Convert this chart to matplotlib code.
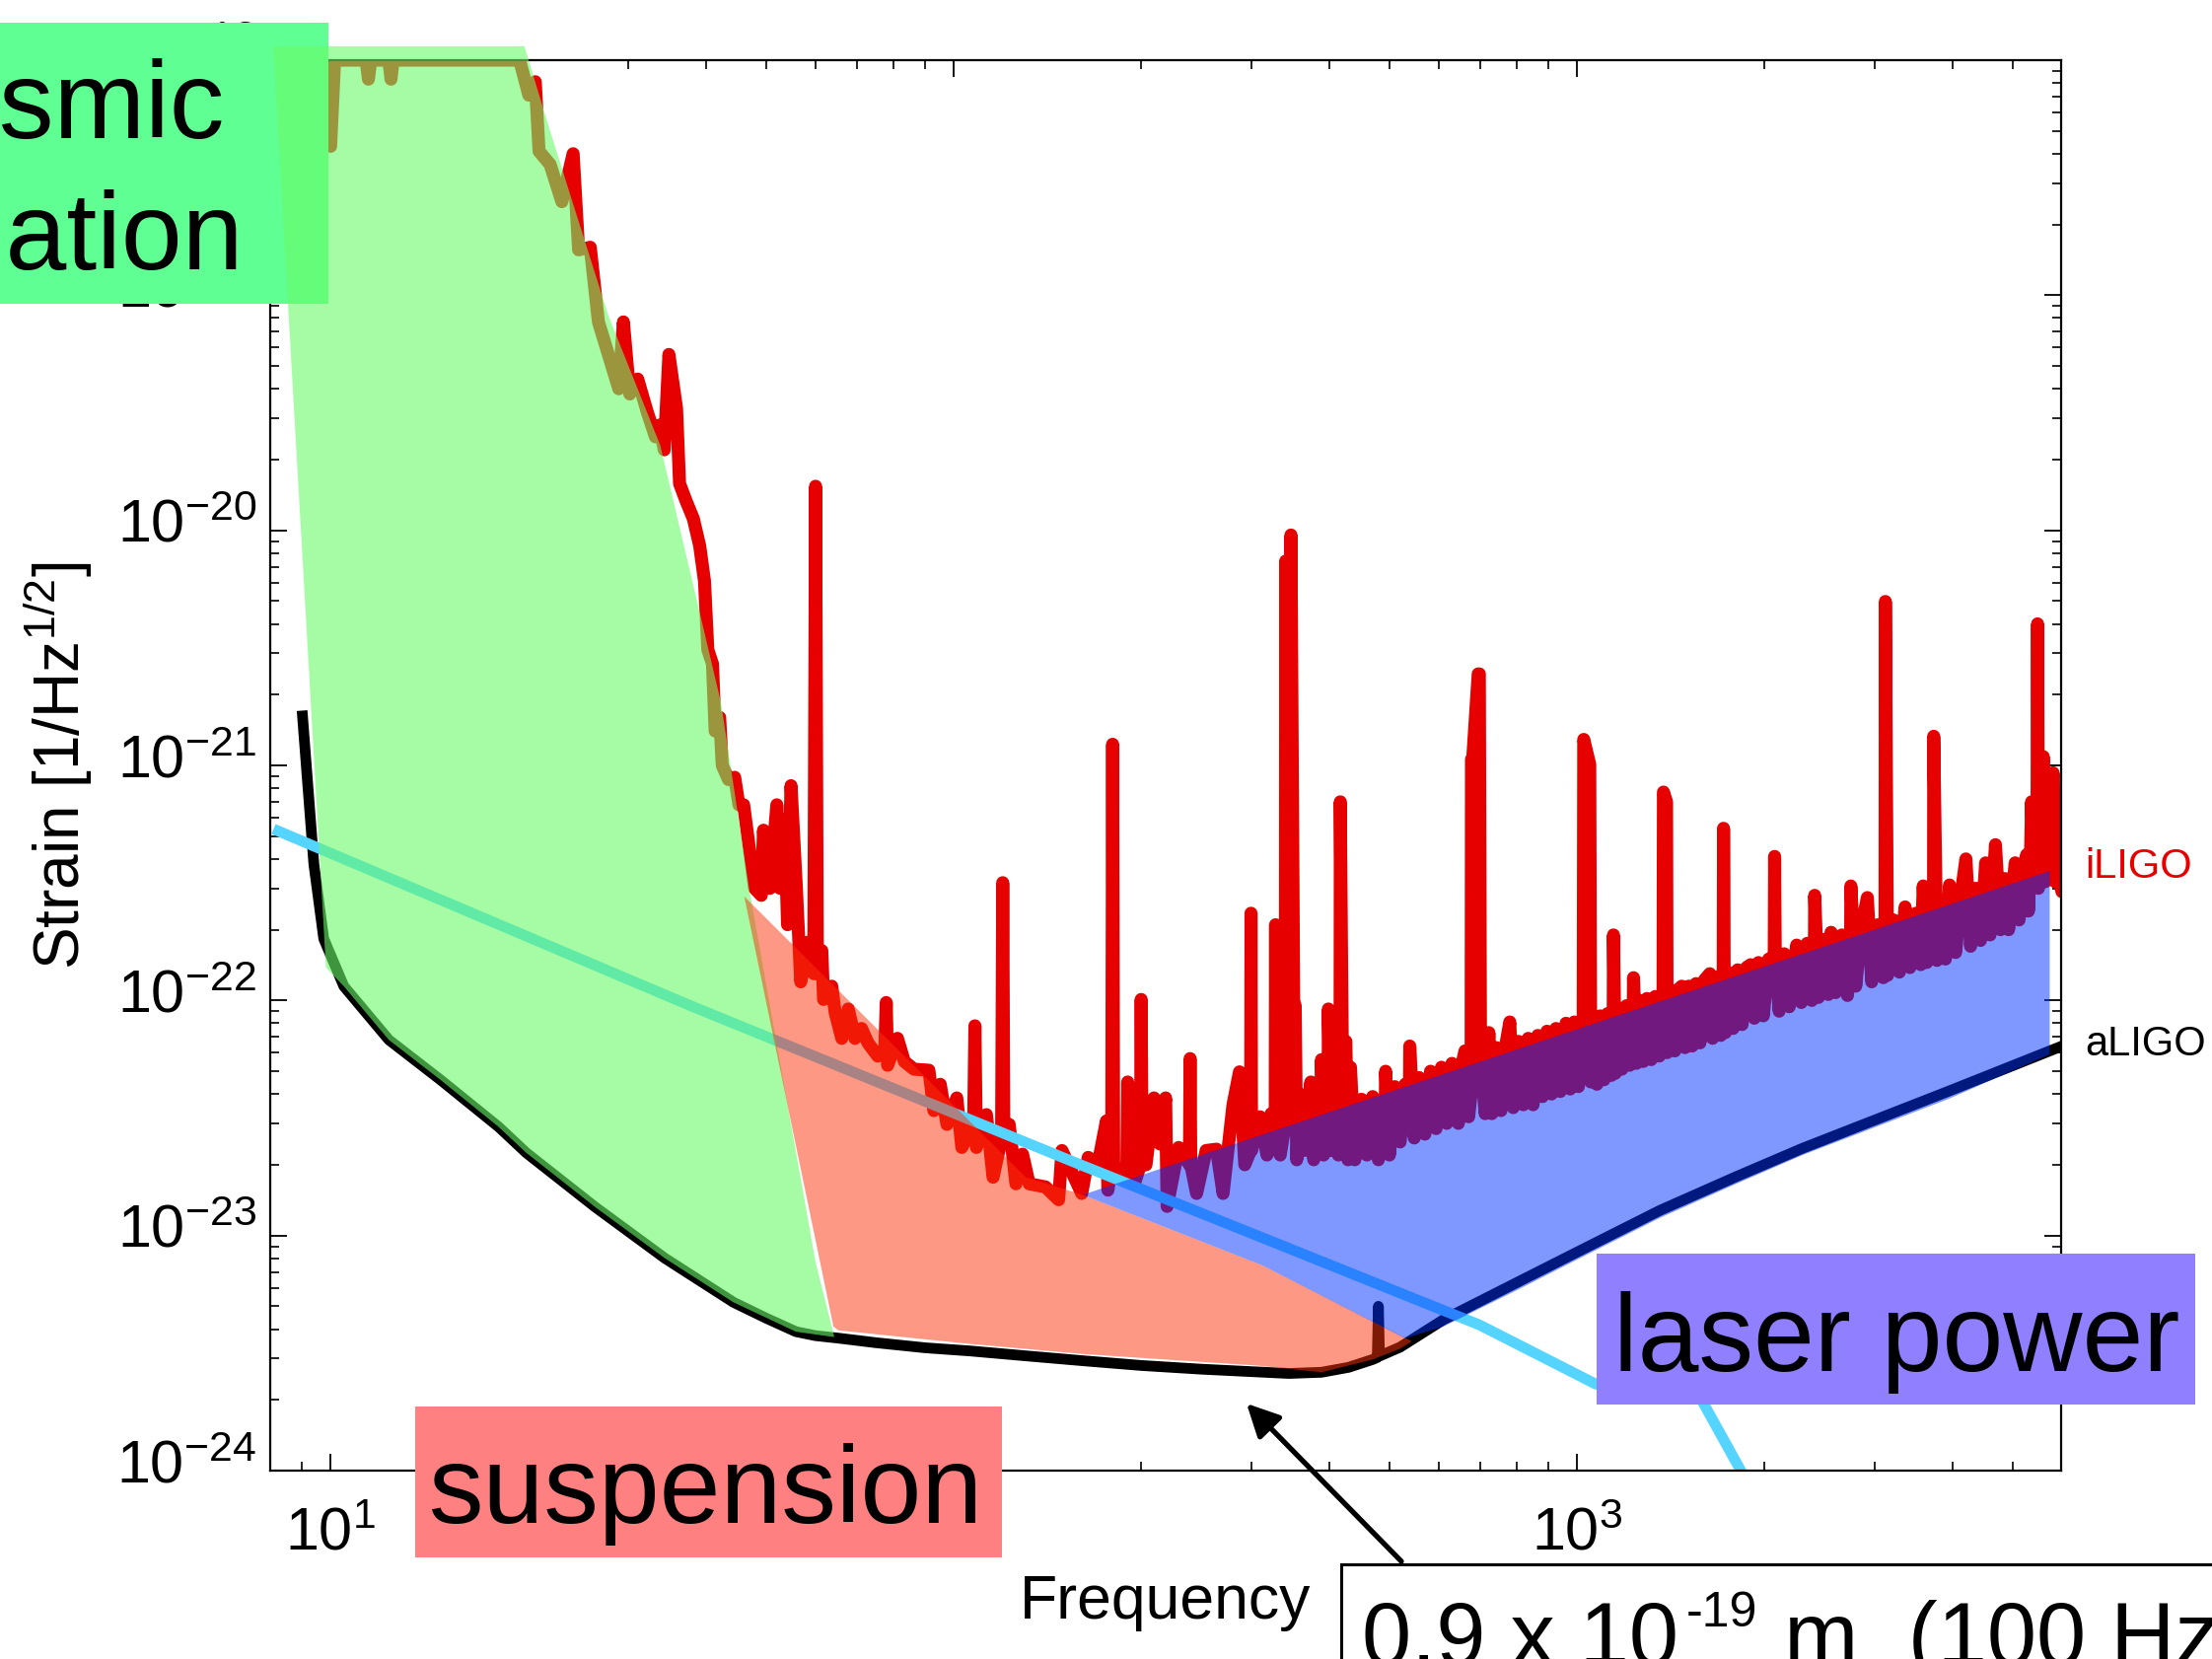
import matplotlib
matplotlib.use("Agg")
import numpy as np
import matplotlib.pyplot as plt
from matplotlib.patches import Rectangle, Polygon, FancyArrowPatch
from matplotlib.ticker import LogLocator, NullFormatter, LogFormatterSciNotation
from matplotlib.transforms import ScaledTranslation

plt.rcParams['font.family'] = ['Liberation Sans', 'DejaVu Sans']
plt.rcParams['mathtext.fontset'] = 'custom'
plt.rcParams['mathtext.rm'] = 'Liberation Sans'
plt.rcParams['mathtext.sf'] = 'Liberation Sans'
plt.rcParams['mathtext.it'] = 'Liberation Sans:italic'
plt.rcParams['mathtext.bf'] = 'Liberation Sans:bold'

# ---------------------------------------------------------------- data
# Advanced LIGO design sensitivity (strain / sqrt(Hz))
aligo_hz = [9.0, 9.4, 9.75, 10.5, 12.4, 15.0, 18.6, 20.6, 26.6, 34.4, 44.3, 50.0,
            55.8, 60.0, 65.3, 75.0, 90.0, 106, 130, 162, 200, 250, 306, 345, 389,
            430, 470, 478, 480, 482, 520, 610, 795, 1000, 1359, 1800, 2300, 3935, 6000]
aligo_strain = [1.71e-21, 3.8e-22, 1.83e-22, 1.15e-22, 6.8e-23, 4.6e-23, 2.9e-23,
                2.25e-23, 1.32e-23, 8.0e-24, 5.2e-24, 4.45e-24, 3.9e-24, 3.75e-24,
                3.66e-24, 3.5e-24, 3.33e-24, 3.23e-24, 3.08e-24, 2.93e-24, 2.8e-24,
                2.7e-24, 2.63e-24, 2.59e-24, 2.62e-24, 2.75e-24, 2.97e-24, 3.03e-24,
                5.0e-24, 3.07e-24, 3.35e-24, 4.38e-24, 6.25e-24, 8.5e-24, 1.28e-23,
                1.78e-23, 2.35e-23, 4.1e-23, 6.4e-23]

# Initial LIGO measured spectrum: (frequency [Hz], strain [1/sqrt(Hz)])
iligo_points = [
    (10.0, 4.3e-19), (10.15, 1.0e-18), (11.4, 1.0e-18), (11.5, 8.3e-19), (11.6, 1.0e-18),
    (12.4, 1.0e-18), (12.5, 8.3e-19), (12.6, 1.0e-18), (20.1, 1.0e-18),
    (20.8, 7.1e-19), (21.3, 8.1e-19), (21.6, 4.1e-19), (22.5, 3.6e-19), (23.5, 2.5e-19),
    (24.5, 4.0e-19), (25.0, 1.56e-19), (26.1, 1.6e-19), (26.9, 7.7e-20), (29.0, 4.0e-20),
    (29.5, 7.7e-20), (30.2, 3.8e-20), (31.1, 4.4e-20), (32.2, 3.2e-20), (33.2, 2.5e-20),
    (33.7, 2.8e-20), (34.3, 2.2e-20), (34.9, 5.6e-20), (35.9, 3.3e-20), (36.3, 1.58e-20),
    (37.2, 1.33e-20), (38.2, 1.12e-20), (39.1, 8.6e-21), (39.8, 6.1e-21), (40.3, 3.1e-21),
    (41.0, 2.7e-21), (41.4, 1.4e-21), (42.1, 1.6e-21), (42.5, 1.0e-21), (43.5, 8.7e-22),
    (44.5, 8.9e-22), (45.2, 6.8e-22), (46.0, 6.8e-22), (46.8, 4.8e-22), (47.9, 3.0e-22),
    (49.1, 2.8e-22), (49.5, 5.3e-22), (50.2, 3.2e-22), (50.7, 3.0e-22), (52.0, 6.8e-22),
    (52.6, 3.0e-22), (53.5, 5.9e-22), (54.1, 2.1e-22), (54.8, 8.2e-22), (55.9, 3.0e-22),
    (56.8, 1.2e-22), (58.3, 1.77e-22), (59.6, 1.3e-22), (60.0, 1.54e-20), (60.4, 1.3e-22),
    (61.4, 1.63e-22), (61.8, 1.01e-22), (63.7, 1.15e-22), (64.5, 8.9e-23), (66.1, 6.9e-23),
    (67.7, 9.2e-23), (69.4, 6.9e-23), (71.1, 7.6e-23), (72.8, 6.6e-23), (75.5, 5.8e-23),
    (77.5, 6.2e-23), (77.9, 9.8e-23), (78.3, 5.3e-23), (81.2, 6.9e-23), (83.3, 5.5e-23),
    (86.3, 5.1e-23), (91.2, 5.05e-23), (92.9, 3.4e-23), (95.1, 4.4e-23), (97.5, 2.97e-23),
    (101.1, 3.85e-23), (103.0, 2.37e-23), (107.6, 3.0e-23), (108.1, 7.8e-23), (108.7, 2.37e-23),
    (112.8, 3.27e-23), (115.6, 1.77e-23), (119.3, 2.6e-23), (119.8, 3.17e-22), (120.3, 2.6e-23),
    (122.7, 2.97e-23), (125.8, 1.66e-23), (128.9, 2.22e-23), (132.1, 1.66e-23), (140.3, 1.61e-23),
    (147.3, 1.42e-23), (149.1, 2.3e-23), (160.4, 1.51e-23), (164.3, 2.15e-23), (170.4, 2.02e-23),
    (175.7, 3.07e-23), (176.7, 1.56e-23), (179.2, 2.0e-23), (179.8, 1.23e-21), (180.5, 2.0e-23),
    (184.4, 1.83e-23), (189.5, 2.0e-23), (190.1, 4.5e-23), (190.8, 1.9e-23), (194.8, 1.66e-23),
    (199.3, 2.0e-23), (199.8, 1.01e-22), (200.5, 2.0e-23), (203.4, 2.0e-23), (209.5, 3.85e-23),
    (214.2, 2.45e-23), (218.7, 3.85e-23), (219.9, 1.33e-23), (229.5, 2.37e-23), (238.8, 2.0e-23),
    (239.4, 5.66e-23), (240.0, 2.0e-23), (245.2, 1.51e-23), (254.0, 2.3e-23), (263.9, 2.33e-23),
    (270.4, 1.51e-23), (280.5, 3.6e-23), (287.3, 4.97e-23), (293.0, 2.0e-23), (299.3, 2.3e-23),
    (299.8, 2.35e-22), (300.4, 2.3e-23), (310, 3.2e-23), (318, 2.2e-23), (323, 3.3e-23),
    (327.8, 2.6e-23), (328.3, 2.1e-22), (328.8, 2.4e-23), (334, 2.2e-23), (340.3, 3.0e-23),
    (340.8, 7.4e-21), (344.0, 5.2e-23), (347.0, 5.2e-23), (347.5, 9.55e-21), (351, 9.9e-23),
    (353, 9.5e-23), (355, 2.1e-23), (359, 4.0e-23), (365, 2.3e-23), (370, 3.6e-23),
    (374, 4.5e-23), (378, 2.1e-23), (383, 3.0e-23), (388.5, 2.5e-23), (389, 5.6e-23),
    (392, 2.2e-23), (398.5, 2.6e-23), (399, 9.2e-23), (403, 2.3e-23), (410, 3.4e-23),
    (414, 2.2e-23), (416.5, 2.8e-23), (417, 7.0e-22), (420, 6.7e-23), (425.6, 6.7e-23),
    (429, 2.1e-23), (433, 5.2e-23), (440, 2.1e-23), (451, 3.8e-23), (460, 2.2e-23),
    (470, 3.9e-23), (480, 2.1e-23), (492.5, 4.0e-23), (493, 5.0e-23), (500, 2.2e-23),
    (510, 4.3e-23), (520, 2.5e-23), (530, 4.4e-23), (538.5, 4.4e-23), (539, 6.4e-23),
    (548, 2.6e-23), (558, 4.7e-23), (570, 2.7e-23), (582, 5.0e-23), (594, 2.85e-23),
    (606, 5.2e-23), (618, 3.0e-23), (630, 5.4e-23), (645, 3.0e-23), (655, 5.5e-23),
    (661, 6.1e-23), (670, 3.2e-23), (676, 4.0e-23), (677, 1.06e-21), (680, 1.06e-21),
    (694, 2.45e-21), (697, 2.45e-21), (700, 5.9e-23), (712, 3.3e-23), (722, 7.3e-23),
    (730, 3.3e-23), (742, 6.3e-23), (755, 3.4e-23), (768, 6.4e-23), (780, 8.1e-23),
    (790, 3.5e-23), (805, 6.7e-23), (820, 3.6e-23), (835, 6.9e-23), (850, 3.6e-23),
    (865, 7.1e-23), (880, 3.9e-23), (895, 7.4e-23), (910, 4.0e-23), (925, 7.6e-23),
    (940, 4.1e-23), (960, 8.0e-23), (975, 4.2e-23), (990, 8.1e-23), (1005, 4.3e-23),
    (1023, 8.2e-23), (1025, 1.29e-21), (1048, 1.01e-21), (1052, 4.5e-23), (1065, 8.4e-23),
    (1076, 4.4e-23), (1090, 8.6e-23), (1105, 4.6e-23), (1120, 8.8e-23), (1135, 4.8e-23),
    (1143, 9.0e-23), (1144, 1.9e-22), (1152, 4.9e-23), (1165, 9.2e-23), (1180, 5.1e-23),
    (1200, 9.5e-23), (1215, 5.3e-23), (1231, 9.7e-23), (1232, 1.25e-22), (1245, 5.4e-23),
    (1262, 1.0e-22), (1277, 5.5e-23), (1295, 1.02e-22), (1315, 5.6e-23), (1335, 1.04e-22),
    (1355, 5.8e-23), (1374, 1.06e-22), (1376, 7.7e-22), (1392, 7.0e-22), (1395, 6.0e-23),
    (1415, 1.1e-22), (1435, 6.1e-23), (1456, 1.12e-22), (1472, 1.15e-22), (1490, 6.3e-23),
    (1510, 1.15e-22), (1530, 6.4e-23), (1552, 1.18e-22), (1575, 6.6e-23), (1600, 1.22e-22),
    (1633, 1.3e-22), (1650, 6.9e-23), (1675, 1.26e-22), (1700, 7.1e-23), (1716, 1.28e-22),
    (1718, 5.4e-22), (1722, 1.28e-22), (1730, 7.3e-23), (1755, 1.31e-22), (1780, 7.6e-23),
    (1810, 1.35e-22), (1840, 7.9e-23), (1870, 1.38e-22), (1899, 1.42e-22), (1925, 8.4e-23),
    (1955, 1.45e-22), (1990, 8.6e-23), (2030, 1.5e-22), (2072, 1.53e-22), (2075, 4.1e-22),
    (2080, 1.5e-22), (2110, 9.0e-23), (2150, 1.58e-22), (2190, 9.4e-23), (2251, 1.72e-22),
    (2290, 9.8e-23), (2340, 1.75e-22), (2380, 1.0e-22), (2404, 1.8e-22), (2406, 2.8e-22),
    (2440, 1.03e-22), (2490, 1.82e-22), (2530, 1.06e-22), (2556, 1.95e-22), (2600, 1.08e-22),
    (2660, 1.9e-22), (2716, 1.05e-22), (2748, 2.0e-22), (2750, 3.07e-22), (2800, 1.15e-22),
    (2860, 2.05e-22), (2923, 2.74e-22), (2970, 1.2e-22), (3040, 2.1e-22), (3100, 1.25e-22),
    (3120, 2.15e-22), (3124, 4.98e-21), (3150, 1.28e-22), (3220, 2.2e-22), (3290, 1.32e-22),
    (3360, 2.5e-22), (3420, 1.38e-22), (3500, 2.35e-22), (3560, 1.42e-22), (3593, 3.07e-22),
    (3640, 1.45e-22), (3700, 2.45e-22), (3733, 2.5e-22), (3735, 1.33e-21), (3780, 1.48e-22),
    (3864, 2.6e-22), (3900, 1.5e-22), (3960, 3.1e-22), (4050, 1.6e-22), (4130, 2.8e-22),
    (4207, 4.0e-22), (4280, 1.7e-22), (4360, 3.0e-22), (4440, 1.8e-22), (4525, 3.85e-22),
    (4600, 1.9e-22), (4692, 4.6e-22), (4780, 2.0e-22), (4860, 3.3e-22), (4925, 2.0e-22),
    (5047, 3.85e-22), (5120, 2.2e-22), (5200, 3.6e-22), (5266, 4.17e-22), (5300, 2.4e-22),
    (5340, 4.0e-22), (5362, 7.0e-22), (5400, 3.5e-22), (5470, 5.0e-22), (5482, 4.0e-21),
    (5500, 3.0e-22), (5560, 4.2e-22), (5598, 1.09e-21), (5640, 3.2e-22), (5700, 6.0e-22),
    (5780, 3.5e-22), (5805, 9.3e-22), (5850, 3.2e-22), (5930, 7.0e-22), (5980, 3.0e-22),
    (6000, 2.9e-22),
]
iligo_hz = [p[0] for p in iligo_points]
iligo_strain = [p[1] for p in iligo_points]

# reference noise line crossing the band
ref_line_hz = [8.1, 37.8, 162, 313, 697, 1073, 1554, 1820, 1884]
ref_line_strain = [5.36e-22, 9.5e-23, 1.97e-23, 9.78e-24, 4.17e-24, 2.33e-24, 2.19e-24,
                   1.03e-24, 8.7e-25]

# improvement regions (outline vertices)
seismic_hz = [8.09, 20.46, 22.5, 27.9, 33.8, 42.3, 47.0, 60.0, 64.3, 55.8, 44.3, 34.4,
              26.6, 20.6, 18.6, 15.0, 12.4, 10.5, 9.83]
seismic_strain = [1.146e-18, 1.146e-18, 5.0e-19, 8.2e-20, 2.3e-20, 1.85e-21, 2.93e-22,
                  7.7e-24, 3.7e-24, 3.9e-24, 5.2e-24, 8.0e-24, 1.32e-23, 2.25e-23,
                  2.9e-23, 4.6e-23, 6.8e-23, 1.15e-22, 1.38e-22]

suspension_hz = [46.1, 130.5, 161, 313, 543, 520, 470, 389, 306, 250, 162, 106, 65.3, 64.1]
suspension_strain = [2.77e-22, 1.77e-23, 1.49e-23, 7.46e-24, 3.55e-24, 3.3e-24, 2.97e-24,
                     2.62e-24, 2.8e-24, 2.9e-24, 3.13e-24, 3.46e-24, 3.95e-24, 4.1e-24]

laser_hz = [161, 5733, 5733, 3935, 2300, 1800, 1359, 1000, 795, 610, 530, 313]
laser_strain = [1.49e-23, 3.55e-22, 5.9e-23, 3.8e-23, 2.2e-23, 1.66e-23, 1.19e-23,
                7.9e-24, 5.8e-24, 4.1e-24, 3.65e-24, 7.46e-24]

x_ticks = [10, 100, 1000]
y_ticks = [1e-24, 1e-23, 1e-22, 1e-21, 1e-20, 1e-19, 1e-18]

# ---------------------------------------------------------------- figure
W, H = 2243, 1682
fig = plt.figure(figsize=(W / 100, H / 100), dpi=100)


def fx(px):
    return px / W


def fy(py):
    return 1 - py / H


ax = fig.add_axes([fx(274), fy(1491), (2090 - 274) / W, (1491 - 61) / H])
ax.set_xscale('log')
ax.set_yscale('log')
ax.set_xlim(8.0, 5980)
ax.set_ylim(1e-24, 1e-18)

ax.plot(aligo_hz, aligo_strain, color='black', lw=7.8, solid_joinstyle='round',
        solid_capstyle='butt', zorder=2.0)
ax.plot(iligo_hz, iligo_strain, color='#e60000', lw=9.5, solid_joinstyle='round',
        solid_capstyle='round', zorder=2.1)
ax.plot(ref_line_hz, ref_line_strain, color='#55d4ff', lw=7.8, solid_capstyle='butt',
        solid_joinstyle='round', zorder=2.2)

# label boxes that sit under the shaded regions
ax.add_patch(Rectangle((fx(-20), fy(308)), fx(333 + 20), (308 - 23) / H,
                       transform=fig.transFigure, facecolor='#5fff93', edgecolor='none',
                       clip_on=False, zorder=3))
ax.add_patch(Rectangle((fx(421), fy(1579)), fx(1016 - 421), (1579 - 1426) / H,
                       transform=fig.transFigure, facecolor='#ff8080', edgecolor='none',
                       clip_on=False, zorder=3))
ax.add_patch(Rectangle((fx(1619), fy(1424)), fx(2226 - 1619), (1424 - 1271) / H,
                       transform=fig.transFigure, facecolor='#9080ff', edgecolor='none',
                       clip_on=False, zorder=3))

ax.add_patch(Polygon(np.column_stack([seismic_hz, seismic_strain]), closed=True,
                     facecolor=(105 / 255, 250 / 255, 105 / 255), alpha=0.6,
                     edgecolor='none', clip_on=False, zorder=3.5))
ax.add_patch(Polygon(np.column_stack([suspension_hz, suspension_strain]), closed=True,
                     facecolor=(253 / 255, 50 / 255, 10 / 255), alpha=0.5,
                     edgecolor='none', zorder=3.6))
ax.add_patch(Polygon(np.column_stack([laser_hz, laser_strain]), closed=True,
                     facecolor=(0, 50 / 255, 1.0), alpha=0.5,
                     edgecolor='none', zorder=3.7))

# axes styling
ax.set_xticks(x_ticks)
ax.set_yticks(y_ticks)
ax.xaxis.set_major_formatter(LogFormatterSciNotation())
ax.yaxis.set_major_formatter(LogFormatterSciNotation())
ax.xaxis.set_minor_locator(LogLocator(base=10, subs=np.arange(2, 10), numticks=100))
ax.yaxis.set_minor_locator(LogLocator(base=10, subs=np.arange(2, 10), numticks=100))
ax.xaxis.set_minor_formatter(NullFormatter())
ax.yaxis.set_minor_formatter(NullFormatter())
ax.tick_params(which='both', direction='in', top=True, right=True)
ax.tick_params(which='major', length=12, width=1.3, labelsize=44)
ax.tick_params(which='minor', length=6.5, width=1.2)
ax.tick_params(axis='x', which='major', pad=26)
ax.tick_params(axis='y', which='major', pad=10)
for s in ax.spines.values():
    s.set_linewidth(1.6)

# keep the mantissa "10" centred on its tick, exponent riding above
lift = ScaledTranslation(0, 7 / 72, fig.dpi_scale_trans)
for lab in ax.get_yticklabels():
    lab.set_transform(lab.get_transform() + lift)

ax.set_ylabel(r'Strain [1/Hz$^{1/2}$]', fontsize=46)
ax.yaxis.set_label_coords(-0.098, 0.5)
ax.set_xlabel('Frequency', fontsize=45)
ax.xaxis.set_label_coords(0.5, -0.0727)

# curve labels
fig.text(fx(2114), fy(879), 'iLIGO', color='#e60000', fontsize=30, ha='left', va='center')
fig.text(fx(2114), fy(1059), 'aLIGO', color='black', fontsize=30, ha='left', va='center')

# box captions
fig.text(fx(43), fy(140), 'seismic', fontsize=80, ha='center', va='baseline', zorder=6)
fig.text(fx(43), fy(273), 'isolation', fontsize=80, ha='center', va='baseline', zorder=6)
fig.text(fx(435), fy(1544), 'suspension', fontsize=80, ha='left', va='baseline', zorder=6)
fig.text(fx(1636), fy(1390), 'laser power', fontsize=80, ha='left', va='baseline', zorder=6)

# displacement note with arrow
fig.add_artist(Rectangle((fx(1360), fy(1720)), fx(2300 - 1360), (1720 - 1586) / H,
                         transform=fig.transFigure, facecolor='white', edgecolor='black',
                         lw=2.2, clip_on=False, zorder=7))
fig.add_artist(FancyArrowPatch(posA=(fx(1421), fy(1583)), posB=(fx(1264), fy(1423)),
                               transform=fig.transFigure, arrowstyle='-|>',
                               mutation_scale=50, lw=3.8, color='black',
                               shrinkA=0, shrinkB=0, zorder=8))
renderer = fig.canvas.get_renderer()
t1 = fig.text(fx(1381), fy(1688), '0.9 x 10', fontsize=65, ha='left', va='baseline', zorder=9)
bb1 = t1.get_window_extent(renderer)
t2 = fig.text((bb1.x1 + 8) / W, fy(1649), '-19', fontsize=36, ha='left', va='baseline', zorder=9)
bb2 = t2.get_window_extent(renderer)
fig.text((bb2.x1 + 2) / W, fy(1688), ' m  (100 Hz)', fontsize=65, ha='left', va='baseline',
         zorder=9)

fig.savefig('out.png', dpi=100)
